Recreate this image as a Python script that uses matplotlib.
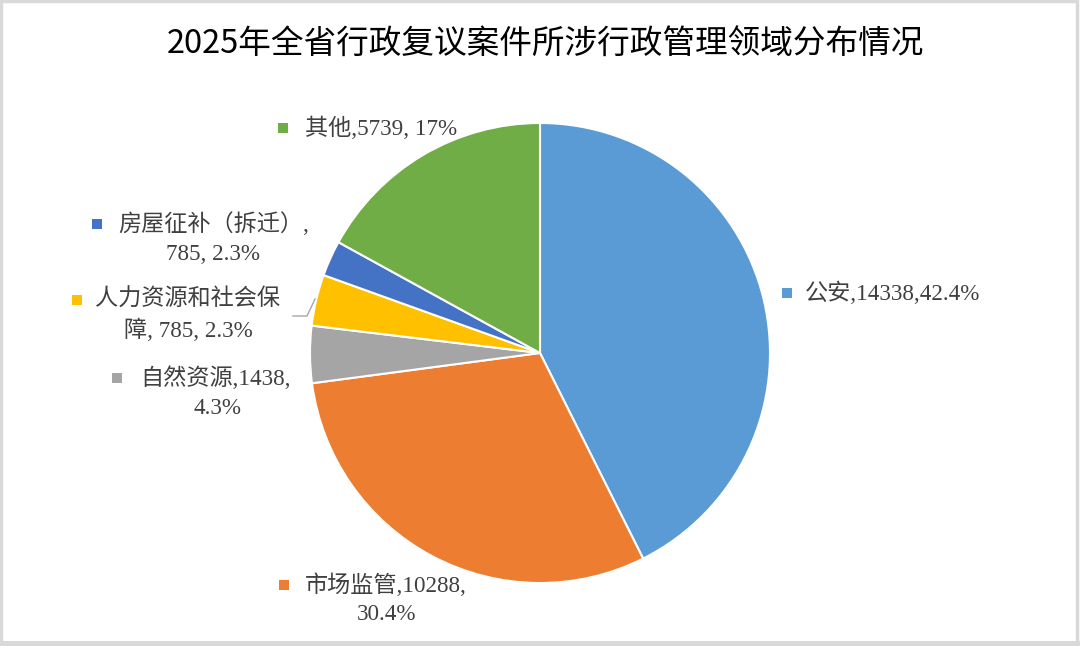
import matplotlib.pyplot as plt
from matplotlib.patches import Rectangle

# Data
categories = ['公安', '市场监管', '自然资源', '人力资源和社会保障', '房屋征补（拆迁）', '其他']
counts = [14338, 10288, 1438, 785, 785, 5739]
# slice sizes (percent) as drawn in the chart
slice_share = [42.6, 30.3, 4.0, 3.6, 2.5, 17.0]
colors = ['#5B9BD5', '#ED7D31', '#A5A5A5', '#FFC000', '#4472C4', '#70AD47']
label_lines = [
    ['公安,14338,42.4%'],
    ['市场监管,10288,', '30.4%'],
    ['自然资源,1438,', '4.3%'],
    ['人力资源和社会保', '障, 785, 2.3%'],
    ['房屋征补（拆迁）,', '785, 2.3%'],
    ['其他,5739, 17%'],
]
title = '2025年全省行政复议案件所涉行政管理领域分布情况'

# Layout (pixel positions, y measured from the top)
W, H = 1080, 646
center_px = (540, 353)
radius_px = 230
marker_px = [(787, 293), (284, 585), (117, 378), (77, 300), (97, 224), (283, 128)]
line1_left = [805, 305, 140, 95, 118, 305]
line2_center = [None, 387, 217, 188, 213, None]
line_gap = 30

text_color = '#404040'
label_font = ['Liberation Serif', 'Noto Sans CJK SC']

fig = plt.figure(figsize=(W / 100, H / 100), dpi=100)
ax = fig.add_axes([0, 0, 1, 1])


def fy(y):
    return H - y


ax.pie(slice_share, colors=colors, startangle=90, counterclock=False,
       center=(center_px[0], fy(center_px[1])), radius=radius_px, frame=True,
       wedgeprops=dict(edgecolor='white', linewidth=1.5))
ax.set_xlim(0, W)
ax.set_ylim(0, H)
ax.set_aspect('equal')
ax.axis('off')

for i, lines in enumerate(label_lines):
    mx, my = marker_px[i]
    ax.add_patch(Rectangle((mx - 5, fy(my) - 5), 10, 10, color=colors[i], lw=0))
    ax.text(line1_left[i], fy(my), lines[0], ha='left', va='center',
            fontsize=16.7, color=text_color, family=label_font)
    if len(lines) > 1:
        ax.text(line2_center[i], fy(my + line_gap), lines[1], ha='center', va='center',
                fontsize=16.7, color=text_color, family=label_font)

# leader line for the small yellow slice
ax.plot([293, 307, 315], [fy(316), fy(316), fy(299)], color='#A6A6A6', lw=1)

ax.text(545, fy(45), title, ha='center', va='center', fontsize=23.5,
        color='black', family=['Noto Sans CJK SC', 'DejaVu Sans'])

# outer frame
fig.patches.append(Rectangle((0.001, 0.004), 0.996, 0.994, transform=fig.transFigure,
                             fill=False, edgecolor='#D9D9D9', lw=2.5))
fig.patches.append(Rectangle((0, 0), 1, 5 / H, transform=fig.transFigure,
                             color='#D9D9D9', lw=0))

plt.savefig('out.png', dpi=100)
plt.close()
